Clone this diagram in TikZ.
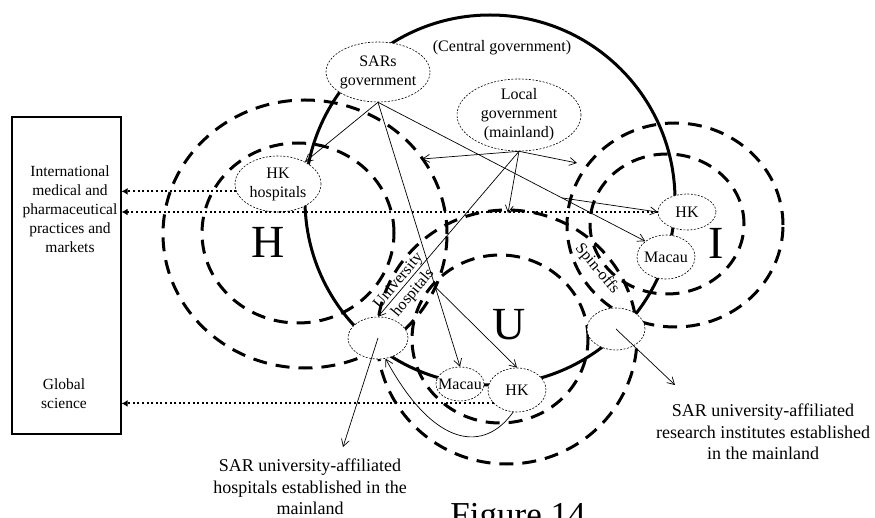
\documentclass[tikz,border=0pt]{standalone}
\usepackage{fontspec}
\setmainfont{Liberation Serif}
\usetikzlibrary{shapes.geometric, arrows.meta, calc}

\begin{document}
\begin{tikzpicture}[x=1pt, y=-1pt,
  zone/.style={line width=3pt, dash pattern=on 14pt off 9pt},
  govring/.style={line width=3pt},
  actor/.style={ellipse, draw, line width=0.6pt, dash pattern=on 2pt off 1.5pt, fill=white, inner sep=0pt},
  txt/.style={align=center, font=\fontsize{16}{19}\selectfont, inner sep=0pt},
  boxtxt/.style={align=center, font=\fontsize{15.5}{19}\selectfont, inner sep=0pt},
  flow/.style={line width=0.7pt, -{Straight Barb[length=7pt,width=8pt]}},
  ext/.style={line width=2pt, dash pattern=on 2pt off 2.6pt, -{Latex[length=6pt,width=7pt]}},
  big/.style={font=\fontsize{46}{46}\selectfont, inner sep=0pt},
  note/.style={align=center, font=\fontsize{18}{21.5}\selectfont, inner sep=0pt},
]
\useasboundingbox (0,0) rectangle (875,518);
\clip (0,0) rectangle (875,518);

% helix spheres: hospitals (H), universities (U), industry (I)
\draw[zone] (305,234) ellipse [x radius=142pt, y radius=134pt];
\draw[zone] (298,233) ellipse [x radius=96pt, y radius=90pt];
\draw[zone] (507,337) ellipse [x radius=130pt, y radius=127pt];
\draw[zone] (500,339) ellipse [x radius=88pt, y radius=84pt];
\draw[zone] (675,225) ellipse [x radius=108pt, y radius=102pt];
\draw[zone] (667,224) ellipse [x radius=77pt, y radius=70pt];

% central government ring
\draw[govring] (490,200) circle [radius=185pt];

% outside world
\node[draw, line width=1.3pt, minimum width=109pt, minimum height=317pt, inner sep=0pt] (world) at (66.5,275.5) {};
\node[boxtxt] (intl) at (70,209) {International\\medical and\\pharmaceutical\\practices and\\markets};
\node[boxtxt] (glob) at (64,394) {Global\\science};

% actors
\node[actor, minimum width=104pt, minimum height=60pt] (sars) at (378,72) {};
\node[actor, minimum width=124pt, minimum height=72pt] (local) at (519,115) {};
\node[actor, minimum width=86pt, minimum height=56pt] (hkh) at (278,184) {};
\node[actor, minimum width=58pt, minimum height=36pt] (hkI) at (687,212) {};
\node[actor, minimum width=58pt, minimum height=44pt] (macauI) at (666,257) {};
\node[actor, minimum width=60pt, minimum height=42pt] (uh) at (378,338) {};
\node[actor, minimum width=58pt, minimum height=42pt] (spin) at (616,329) {};
\node[actor, minimum width=48pt, minimum height=34pt] (macauU) at (460,384) {};
\node[actor, minimum width=58pt, minimum height=44pt] (hkU) at (517,390) {};

\node[txt] at (sars) {SARs\\government};
\node[txt] at (local) {Local\\government\\(mainland)};
\node[txt] at (hkh) {HK\\hospitals};
\node[txt] at (hkI) {HK};
\node[txt] at (macauI) {Macau};
\node[txt] at (macauU) {Macau};
\node[txt] at (hkU) {HK};

% links to the outside world
\draw[ext] (hkh.190) -- (hkh.190 -| world.east);
\draw[ext] (hkI.west) -- (hkI.west -| world.east);
\draw[ext] (hkU.210) -- (hkU.210 -| world.east);

% flows from the SAR governments
\coordinate (forkU) at ($(sars.south)!0.698!(macauU.north)$);
\coordinate (forkI) at ($(sars.south)!0.688!(macauI.north west)$);
\draw[flow] (sars.south) -- (hkh);
\draw[flow] (sars.south) -- (macauU.north);
\draw[flow] (forkU) -- (hkU.north);
\draw[flow] (sars.south) -- (macauI.north west);
\draw[flow] (forkI) -- (hkI.west);

% flows from the local government
\coordinate (hzone) at (422,159);
\coordinate (izone) at (577,163);
\coordinate (uzone) at (508,213);
\draw[flow] (local.south) -- (hzone);
\draw[flow] (local.south) -- (izone);
\draw[flow] (local.south) -- (uzone);
\draw[flow] (local.south) -- (uh.north);
\node[txt, rotate=50] (uhlbl) at (406,287) {University\\hospitals};

% university hospital and spin-off ties
\draw[flow] (hkU.-100) .. controls (485,452) and (435,450) .. (uh.-70);
\node[txt, rotate=-50] (spinlbl) at (597,269) {Spin-offs};

% captions
\node[note] (hosplbl) at (310,487) {SAR university-affiliated\\hospitals established in the\\mainland};
\node[note] (instlbl) at (763,432) {SAR university-affiliated\\research institutes established\\in the mainland};
\coordinate (hospend) at (343,447);
\coordinate (instend) at (675,385);
\draw[flow] (uh.center) -- (hospend);
\draw[flow] (spin.center) -- (instend);

\node[txt] (central) at (502,48) {(Central government)};
\node[big] (hlbl) at (268,242) {H};
\node[big] (ulbl) at (509,325) {U};
\node[big] (ilbl) at (716,243) {I};

\node[font=\fontsize{35}{35}\selectfont, anchor=base, inner sep=0pt] (fig) at (518,526) {Figure 14};
\end{tikzpicture}
\end{document}
